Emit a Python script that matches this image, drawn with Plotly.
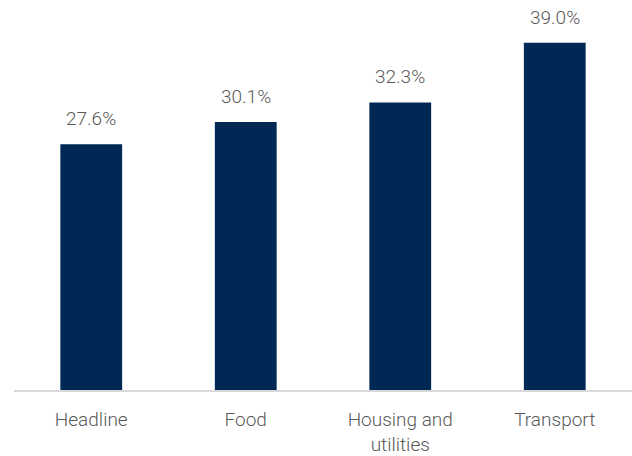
import plotly.graph_objects as go

categories = ["Headline", "Food", "Housing and<br>utilities", "Transport"]
values = [27.6, 30.1, 32.3, 39.0]
labels = ["27.6%", "30.1%", "32.3%", "39.0%"]

FONT = "Roboto, sans-serif"

fig = go.Figure(go.Bar(
    x=categories, y=values,
    marker=dict(color="#002855", line=dict(width=0)),
))
for c, v, t in zip(categories, values, labels):
    fig.add_annotation(x=c, y=v, text=t, showarrow=False, yanchor="bottom",
                       yshift=12, font=dict(size=19, color="#595959", family=FONT, weight=300))
fig.update_layout(
    width=632, height=456,
    margin=dict(l=14, r=0, t=0, b=66),
    paper_bgcolor="white", plot_bgcolor="white",
    bargap=0.6, showlegend=False,
    font=dict(family=FONT, color="#595959", size=18),
)
fig.update_xaxes(showline=True, linecolor="#d9d9d9", linewidth=2, ticks="",
                 tickfont=dict(size=19, color="#595959", weight=300), ticklabelstandoff=11)
fig.update_yaxes(visible=False, range=[0, 43.8], showgrid=False)
fig.write_html("out.html")
